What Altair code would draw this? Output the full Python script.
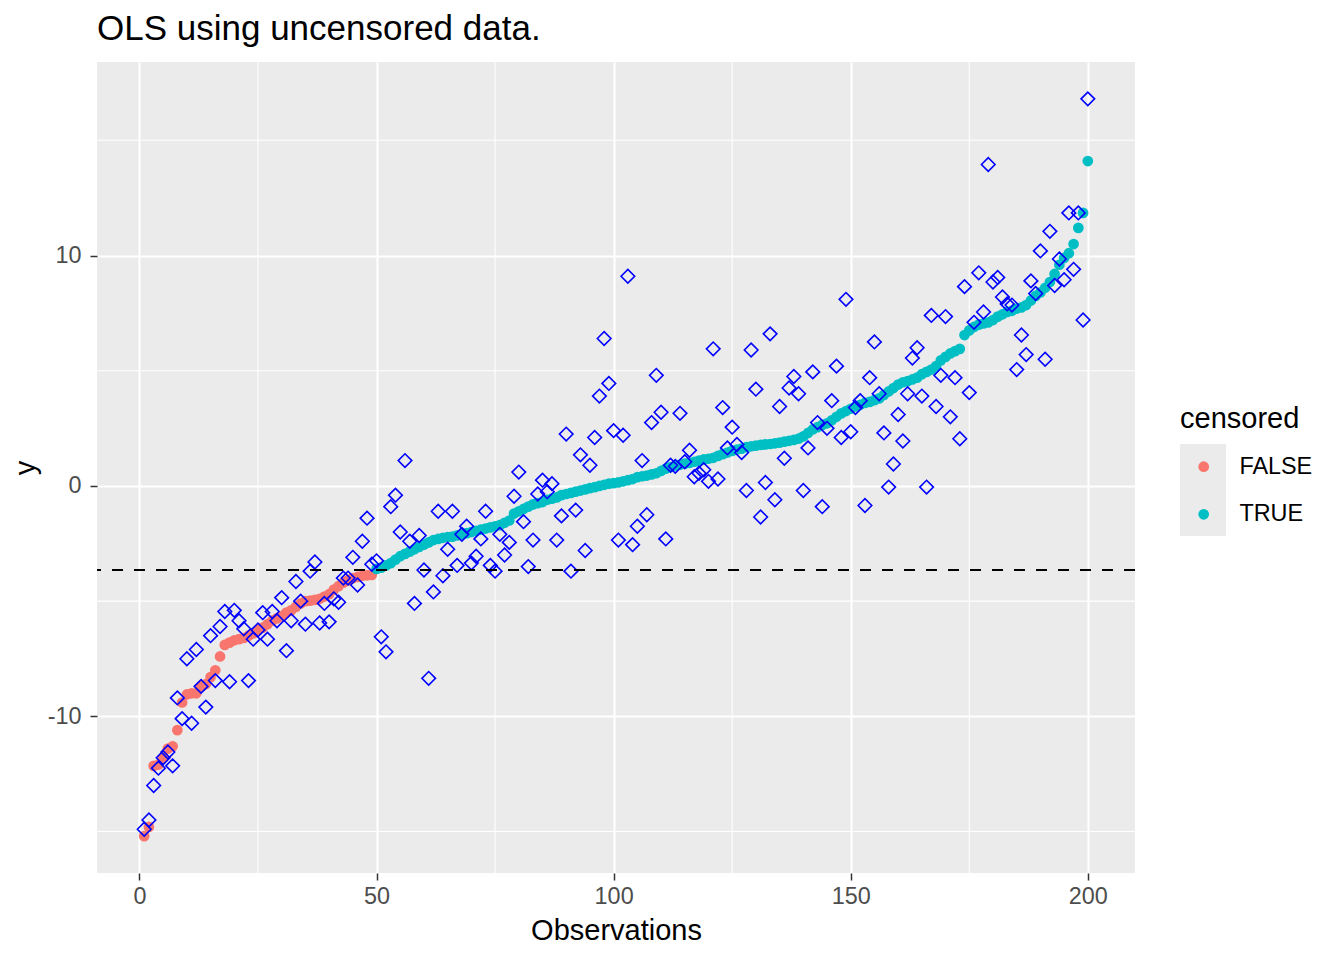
import altair as alt
import pandas as pd

# Sorted observed y (circles)
y_sorted = [
    -15.2, -14.8, -12.15, -12.1, -11.8, -11.4, -11.3, -10.6, -9.4, -9.05,
    -9.0, -9.0, -8.7, -8.6, -8.3, -8.0, -7.4, -6.9, -6.8, -6.7,
    -6.65, -6.6, -6.5, -6.4, -6.25, -6.15, -6.0, -5.85, -5.75, -5.65,
    -5.5, -5.4, -5.25, -5.1, -5.0, -4.98, -4.95, -4.9, -4.8, -4.7,
    -4.5, -4.35, -4.2, -4.1, -4.0, -3.95, -3.9, -3.88, -3.86, -3.6,
    -3.55, -3.45, -3.35, -3.2, -3.05, -2.95, -2.85, -2.75, -2.65, -2.55,
    -2.45, -2.35, -2.3, -2.25, -2.22, -2.2, -2.15, -2.1, -2.05, -2.0,
    -1.95, -1.9, -1.85, -1.8, -1.75, -1.7, -1.6, -1.5, -1.2, -1.1,
    -1.0, -0.9, -0.8, -0.75, -0.7, -0.6, -0.55, -0.5, -0.4, -0.35,
    -0.3, -0.25, -0.2, -0.15, -0.1, -0.05, 0.0, 0.05, 0.1, 0.12,
    0.15, 0.2, 0.25, 0.3, 0.38, 0.42, 0.45, 0.5, 0.55, 0.65,
    0.75, 0.82, 0.88, 0.92, 0.97, 1.0, 1.05, 1.1, 1.15, 1.18,
    1.22, 1.3, 1.38, 1.45, 1.52, 1.58, 1.62, 1.68, 1.72, 1.75,
    1.78, 1.8, 1.82, 1.85, 1.88, 1.92, 1.96, 2.0, 2.05, 2.15,
    2.3, 2.45, 2.55, 2.65, 2.72, 2.85, 3.0, 3.15, 3.25, 3.35,
    3.45, 3.52, 3.6, 3.65, 3.72, 3.8, 3.95, 4.1, 4.25, 4.4,
    4.5, 4.55, 4.62, 4.7, 4.85, 4.95, 5.05, 5.2, 5.45, 5.6,
    5.75, 5.85, 5.95, 6.55, 6.75, 6.9, 7.0, 7.05, 7.1, 7.2,
    7.35, 7.45, 7.55, 7.6, 7.7, 7.75, 7.85, 8.05, 8.25, 8.4,
    8.6, 8.85, 9.2, 9.6, 9.9, 10.1, 10.5, 11.2, 11.85, 14.1,
]

# OLS fitted values (open diamonds)
y_fitted = [
    -14.9, -14.5, -13.0, -12.25, -11.8, -11.55, -12.15, -9.2, -10.1, -7.5,
    -10.3, -7.1, -8.7, -9.6, -6.5, -8.45, -6.1, -5.45, -8.5, -5.4,
    -5.85, -6.2, -8.45, -6.65, -6.25, -5.5, -6.65, -5.45, -5.85, -4.85,
    -7.15, -5.85, -4.15, -5.0, -6.0, -3.7, -3.3, -5.95, -5.1, -5.9,
    -4.9, -5.05, -4.0, -4.0, -3.1, -4.3, -2.4, -1.4, -3.4, -3.25,
    -6.55, -7.2, -0.9, -0.4, -2.0, 1.1, -2.4, -5.1, -2.15, -3.65,
    -8.35, -4.6, -1.1, -3.9, -2.75, -1.1, -3.45, -2.1, -1.75, -3.35,
    -3.05, -2.3, -1.1, -3.45, -3.7, -2.1, -3.0, -2.45, -0.45, 0.6,
    -1.55, -3.5, -2.35, -0.35, 0.25, -0.25, 0.1, -2.35, -1.3, 2.25,
    -3.7, -1.05, 1.35, -2.8, 0.9, 2.1, 3.9, 6.4, 4.45, 2.4,
    -2.35, 2.2, 9.1, -2.55, -1.75, 1.1, -1.25, 2.75, 4.8, 3.2,
    -2.3, 0.9, 0.85, 3.15, 1.05, 1.55, 0.4, 0.55, 0.7, 0.2,
    5.95, 0.3, 3.4, 1.65, 2.55, 1.8, 1.45, -0.2, 5.9, 4.2,
    -1.35, 0.15, 6.6, -0.6, 3.45, 1.2, 4.25, 4.75, 4.0, -0.2,
    1.65, 4.95, 2.75, -0.9, 2.5, 3.7, 5.2, 2.1, 8.1, 2.35,
    3.4, 3.7, -0.85, 4.7, 6.25, 4.0, 2.3, -0.05, 0.95, 3.1,
    1.95, 4.0, 5.55, 6.0, 3.9, -0.05, 7.4, 3.45, 4.8, 7.35,
    3.0, 4.7, 2.05, 8.65, 4.05, 7.1, 9.25, 7.55, 13.95, 8.85,
    9.05, 8.2, 7.9, 7.85, 5.05, 6.55, 5.7, 8.9, 8.35, 10.2,
    5.5, 11.05, 8.7, 9.85, 8.95, 11.85, 9.4, 11.85, 7.2, 16.8,
]

threshold = -3.65
x_major = [0, 50, 100, 150, 200]
x_minor = [25, 75, 125, 175]
y_major = [-10, 0, 10]
y_minor = [-15, -5, 5, 15]
legend_labels = ["FALSE", "TRUE"]
legend_colors = ["#F8766D", "#00BFC4"]

obs = list(range(1, len(y_sorted) + 1))
df = pd.DataFrame({
    "Observations": obs,
    "y": y_sorted,
    "fitted": y_fitted,
    "censored": ["TRUE" if v > threshold else "FALSE" for v in y_sorted],
})
df_line = pd.DataFrame({"t": [threshold]})
df_xminor = pd.DataFrame({"xm": x_minor})
df_yminor = pd.DataFrame({"ym": y_minor})

FONT = "Liberation Sans"

x_scale = alt.Scale(domain=[-8.95, 209.95], nice=False, zero=False)
y_scale = alt.Scale(domain=[-16.8, 18.4], nice=False, zero=False)

x_axis = alt.Axis(
    values=x_major,
    title="Observations",
    labelExpr="'' + datum.value",
    grid=True,
    gridColor="white",
    gridWidth=2.1,
    domain=False,
    tickColor="#333333",
    tickSize=7,
    tickWidth=1.5,
    labelColor="#4D4D4D",
    labelFontSize=23.4,
    labelFont=FONT,
    labelPadding=5,
    titleFont=FONT,
    titleFontSize=29,
    titleFontWeight="normal",
    titleColor="black",
    titlePadding=9,
)
y_axis = alt.Axis(
    values=y_major,
    title="y",
    labelExpr="'' + datum.value",
    grid=True,
    gridColor="white",
    gridWidth=2.1,
    domain=False,
    tickColor="#333333",
    tickSize=7,
    tickWidth=1.5,
    labelColor="#4D4D4D",
    labelFontSize=23.4,
    labelFont=FONT,
    labelPadding=9,
    titleFont=FONT,
    titleFontSize=29,
    titleFontWeight="normal",
    titleColor="black",
    titlePadding=7,
)

key_bg = alt.Chart(alt.Data(values=[{"k": 1}])).mark_rect(color="#EBEBEB").encode(
    x=alt.value(1083), x2=alt.value(1129), y=alt.value(382), y2=alt.value(474)
)

xminor_rules = alt.Chart(df_xminor).mark_rule(color="white", strokeWidth=1.05).encode(
    x=alt.X("xm:Q", scale=x_scale)
)
yminor_rules = alt.Chart(df_yminor).mark_rule(color="white", strokeWidth=1.05).encode(
    y=alt.Y("ym:Q", scale=y_scale)
)

circles = alt.Chart(df).mark_circle(size=115, opacity=1).encode(
    x=alt.X("Observations:Q", scale=x_scale, axis=x_axis),
    y=alt.Y("y:Q", scale=y_scale, axis=y_axis),
    color=alt.Color(
        "censored:N",
        scale=alt.Scale(domain=legend_labels, range=legend_colors),
        legend=alt.Legend(
            orient="none",
            legendX=1083,
            legendY=343,
            title="censored",
            titleFont=FONT,
            titleFontSize=29,
            titleFontWeight="normal",
            titleColor="black",
            titlePadding=21,
            labelFont=FONT,
            labelFontSize=23.4,
            labelColor="black",
            labelOffset=24,
            symbolType="circle",
            symbolSize=115,
            symbolStrokeWidth=0,
            symbolOffset=12,
            rowPadding=22.6,
            padding=0,
        ),
    ),
)

diamonds = alt.Chart(df).mark_point(
    shape="diamond", filled=False, color="#0000FF", size=185, strokeWidth=1.6, opacity=1
).encode(
    x=alt.X("Observations:Q", scale=x_scale),
    y=alt.Y("fitted:Q", scale=y_scale),
)

hline = alt.Chart(df_line).mark_rule(
    color="black", strokeDash=[11, 11], strokeWidth=2
).encode(y=alt.Y("t:Q", scale=y_scale))

chart = alt.layer(key_bg, xminor_rules, yminor_rules, circles, diamonds, hline).properties(
    width=1038,
    height=811,
    autosize=alt.AutoSizeParams(type="none"),
    padding={"left": 89, "top": 54, "right": 190, "bottom": 78},
    background="white",
    title=alt.TitleParams(
        "OLS using uncensored data.",
        anchor="start",
        frame="group",
        font=FONT,
        fontSize=35,
        fontWeight="normal",
        color="black",
        baseline="alphabetic",
        offset=-14,
    ),
).configure_view(fill="#EBEBEB", strokeWidth=0)

chart.save("out.html", embed_options={"renderer": "svg", "actions": False})
